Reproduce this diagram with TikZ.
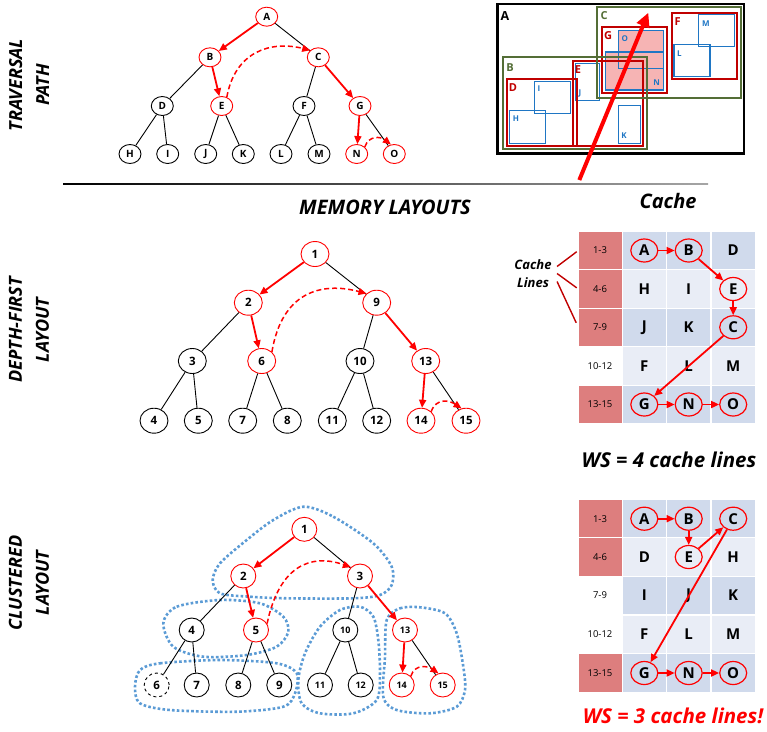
\documentclass[tikz,border=0pt]{standalone}
\usepackage{fontspec}
\setmainfont{Open Sans}
\usetikzlibrary{arrows.meta,positioning,calc,shapes.geometric}
\definecolor{pathred}{RGB}{255,0,0}
\definecolor{boxred}{RGB}{192,0,0}
\definecolor{boxgreen}{RGB}{84,110,54}
\definecolor{boxblue}{RGB}{31,118,196}
\definecolor{blobblue}{RGB}{91,155,213}
\definecolor{linepink}{RGB}{221,126,126}
\definecolor{rowdark}{RGB}{208,218,236}
\definecolor{rowlight}{RGB}{233,237,246}
\definecolor{hatchpink}{RGB}{246,180,180}
\tikzstyle{vertex}=[draw,ellipse,minimum width=22pt,minimum height=19pt,inner sep=0pt,line width=0.9pt,font=\bfseries\fontsize{10}{10}\selectfont]
\tikzstyle{dvertex}=[vertex,minimum width=28pt,minimum height=25pt,font=\bfseries\fontsize{11.5}{11.5}\selectfont]
\tikzstyle{cvertex}=[vertex,minimum width=25pt,minimum height=24pt,font=\bfseries\fontsize{11.5}{11.5}\selectfont]
\tikzstyle{hot}=[draw=pathred]
\tikzstyle{branch}=[line width=0.9pt]
\tikzstyle{walk}=[draw=pathred,line width=1.8pt,-{Triangle[length=8pt,width=7pt]}]
\tikzstyle{jump}=[walk,line width=1.5pt,dash pattern=on 5pt off 3pt]
\tikzstyle{cluster}=[draw=blobblue,line width=2.6pt,dash pattern=on 2.6pt off 2.2pt]
\tikzstyle{title}=[font=\bfseries\itshape\fontsize{18}{27}\selectfont,align=center]
\tikzstyle{linecell}=[minimum width=43pt,minimum height=37.5pt,inner sep=0pt,font=\fontsize{9.5}{9.5}\selectfont]
\tikzstyle{datacell}=[minimum width=43pt,minimum height=37.5pt,inner sep=0pt]
\tikzstyle{slot}=[ellipse,minimum width=27pt,minimum height=23pt,inner sep=0pt,font=\bfseries\fontsize{15}{15}\selectfont]
\tikzstyle{seen}=[slot,draw=pathred,line width=1.2pt]
\tikzstyle{boxtag}=[inner sep=0pt,font=\bfseries\fontsize{11}{11}\selectfont]
\tikzstyle{leaftag}=[boxblue,inner sep=0pt,font=\bfseries\fontsize{8}{8}\selectfont]

\begin{document}
\begin{tikzpicture}[x=1pt,y=-1pt]
\useasboundingbox (0,0) rectangle (767,731);

% section titles
\node[title,rotate=90] (travlabel) at (29,85) {TRAVERSAL\\PATH};
\node[title,rotate=90] (dflabel) at (29,330) {DEPTH-FIRST\\LAYOUT};
\node[title,rotate=90] (cllabel) at (29,583) {CLUSTERED\\LAYOUT};
\node[title,font=\bfseries\itshape\fontsize{20}{20}\selectfont] (memlabel) at (385,207) {MEMORY LAYOUTS};
\node[title,font=\bfseries\itshape\fontsize{20}{20}\selectfont] (cachetitle) at (668,201) {Cache};
\coordinate (ruleleft) at (63,184);
\coordinate (ruleright) at (708,184);
\shade[left color=black,right color=gray!70] ($(ruleleft)+(0,-0.6)$) rectangle ($(ruleright)+(0,0.6)$);

% traversal path tree
\node[vertex,hot] (tA) at (266.7,16.7) {A};
\node[vertex,hot] (tB) at (210,57.3) {B};
\node[vertex,hot] (tC) at (318.3,57.3) {C};
\node[vertex] (tD) at (162.3,106) {D};
\node[vertex,hot] (tE) at (221.7,106) {E};
\node[vertex] (tF) at (304,106) {F};
\node[vertex,hot] (tG) at (360,106) {G};
\node[vertex] (tH) at (130,154) {H};
\node[vertex] (tI) at (167.7,154) {I};
\node[vertex] (tJ) at (205.7,154) {J};
\node[vertex] (tK) at (243.3,154) {K};
\node[vertex] (tL) at (281,154) {L};
\node[vertex] (tM) at (319,154) {M};
\node[vertex,hot] (tN) at (356.7,154) {N};
\node[vertex,hot] (tO) at (394.3,154) {O};
\draw[branch] (tA) -- (tC) (tB) -- (tD) (tC) -- (tF) (tG) -- (tO);
\draw[branch] (tD) -- (tH) (tD) -- (tI) (tE) -- (tJ) (tE) -- (tK) (tF) -- (tL) (tF) -- (tM);
\draw[walk] (tA) -- (tB);
\draw[walk] (tB) -- (tE);
\draw[walk] (tC) -- (tG);
\draw[walk] (tG) -- (tN);
\draw[jump] (tE.60) .. controls +(8,-45) and +(-40,-10) .. (tC.north west);
\draw[jump] (tN.north east) .. controls +(4,-12) and +(-10,-8) .. (tO.110);

% nested boxes
\fill[hatchpink] (605.3,52) rectangle (663.3,90);
\fill[hatchpink] (618.3,30.7) rectangle (663.3,68.3);
\draw[boxblue,line width=1.2pt] (605.3,52) rectangle (663.3,90);
\draw[boxblue,line width=1.2pt] (618.3,30.7) rectangle (663.3,68.3);
\draw[boxblue,line width=1.2pt] (534.3,81.3) rectangle (570.3,113.3);
\draw[boxblue,line width=1.2pt] (509.3,110.7) rectangle (545.3,143.3);
\draw[boxblue,line width=1.2pt] (575.3,63.3) rectangle (599.3,100.7);
\draw[boxblue,line width=1.2pt] (618.3,105.3) rectangle (640.7,143.3);
\draw[boxblue,line width=1.2pt] (674,44.3) rectangle (710,76.3);
\draw[boxblue,line width=1.2pt] (698.3,14.7) rectangle (734.7,46.7);
\draw[boxred,line width=1.8pt] (506.7,79) rectangle (576.7,145.7);
\draw[boxred,line width=1.8pt] (572.7,60.7) rectangle (642.7,145.7);
\draw[boxred,line width=1.8pt] (601.7,27.3) rectangle (667.3,93.3);
\draw[boxred,line width=1.8pt] (672,12.7) rectangle (737.3,79);
\draw[boxgreen,line width=1.8pt] (597.3,6.7) rectangle (740.7,98.3);
\draw[boxgreen,line width=1.8pt] (502.7,57.3) rectangle (647.3,149.3);
\draw[line width=2.6pt] (497.3,4) rectangle (744,153.3);
\node[boxtag,font=\bfseries\fontsize{12.5}{12.5}\selectfont] (boxA) at (505,16) {A};
\node[boxtag,boxgreen] (boxC) at (604,16) {C};
\node[boxtag,boxgreen] (boxB) at (510,68) {B};
\node[boxtag,boxred] (boxD) at (513,88) {D};
\node[boxtag,boxred] (boxE) at (578,70) {E};
\node[boxtag,boxred] (boxG) at (608,36) {G};
\node[boxtag,boxred] (boxF) at (677.7,21.7) {F};
\node[leaftag] (boxI) at (539,89) {I};
\node[leaftag] (boxH) at (516,119) {H};
\node[leaftag] (boxJ) at (580,93) {J};
\node[leaftag] (boxK) at (624,136) {K};
\node[leaftag] (boxO) at (624.7,39) {O};
\node[leaftag] (boxN) at (656.7,82.7) {N};
\node[leaftag] (boxL) at (679.3,53.3) {L};
\node[leaftag] (boxM) at (706,23.3) {M};
\coordinate (sweeptail) at (579.3,180);
\coordinate (sweephead) at (648.3,12.7);
\draw[pathred,line width=4pt,-{Triangle[length=14pt,width=13pt]}] (sweeptail) -- (sweephead);

% depth-first tree
\node[dvertex,hot] (d1) at (315,254) {1};
\node[dvertex,hot] (d2) at (248.3,302.7) {2};
\node[dvertex,hot] (d9) at (376.7,302.7) {9};
\node[dvertex] (d3) at (192.3,361) {3};
\node[dvertex,hot] (d6) at (261.7,361) {6};
\node[dvertex] (d10) at (360,361) {10};
\node[dvertex,hot] (d13) at (425.7,361) {13};
\node[dvertex] (d4) at (154,420.7) {4};
\node[dvertex] (d5) at (198.3,420.7) {5};
\node[dvertex] (d7) at (242.7,420.7) {7};
\node[dvertex] (d8) at (287.3,420.7) {8};
\node[dvertex] (d11) at (332.3,420.7) {11};
\node[dvertex] (d12) at (376.7,420.7) {12};
\node[dvertex,hot] (d14) at (421,420.7) {14};
\node[dvertex,hot] (d15) at (466,420.7) {15};
\draw[branch] (d1) -- (d9) (d2) -- (d3) (d3) -- (d4) (d3) -- (d5) (d6) -- (d7) (d6) -- (d8);
\draw[branch] (d9) -- (d10) (d10) -- (d11) (d10) -- (d12) (d13) -- (d15);
\draw[walk] (d1) -- (d2);
\draw[walk] (d2) -- (d6);
\draw[walk] (d9) -- (d13);
\draw[walk] (d13) -- (d14);
\draw[jump] (d6.north east) .. controls +(10,-60) and +(-45,-12) .. (d9.north west);
\draw[jump] (d14.north east) .. controls +(5,-14) and +(-12,-8) .. (d15.110);

% clustered tree
\draw[cluster] plot[smooth cycle] coordinates {(303.3,506.7) (333.3,516.7) (373.3,543.3) (391.7,566.7) (391.7,585) (380,595) (353.3,598.3) (286.7,598.3) (250,596.7) (220,593.3) (212.7,580) (220,563.3) (246.7,540) (273.3,520)};
\draw[cluster] plot[smooth cycle] coordinates {(163.3,623.3) (176.7,606.7) (220,600) (260,603.3) (283.3,616.7) (288.3,631.7) (276.7,646.7) (246.7,655) (203.3,656.7) (173.3,646.7)};
\draw[cluster] plot[smooth cycle] coordinates {(140,670) (160,663.3) (220,660) (276.7,663.3) (296.7,673.3) (295,693.3) (283.3,706.7) (236.7,711.7) (170,710) (140,703.3) (135,686.7)};
\draw[cluster] plot[smooth cycle] coordinates {(305,653.3) (320,626.7) (340,610) (360,606.7) (373.3,616.7) (378.3,640) (380,673.3) (376.7,700) (353.3,713.3) (320,713.3) (301.7,703.3) (298.3,680)};
\draw[cluster] plot[smooth cycle] coordinates {(386.7,620) (400,608.3) (420,607.3) (445,613.3) (456.7,633.3) (463.3,666.7) (465,690) (456.7,706.7) (430,713.3) (396.7,710) (383.3,696.7) (385,656.7)};
\node[cvertex,hot] (c1) at (304.3,529.3) {1};
\node[cvertex,hot] (c2) at (243.3,576) {2};
\node[cvertex,hot] (c3) at (360,576) {3};
\node[cvertex] (c4) at (191.7,630) {4};
\node[cvertex,hot] (c5) at (256,630) {5};
\node[cvertex,font=\bfseries\fontsize{9}{9}\selectfont] (c10) at (345.3,630) {10};
\node[cvertex,hot,font=\bfseries\fontsize{9}{9}\selectfont] (c13) at (405,630) {13};
\node[cvertex,dashed] (c6) at (156.7,685) {6};
\node[cvertex] (c7) at (196.7,685) {7};
\node[cvertex] (c8) at (238.3,685) {8};
\node[cvertex] (c9) at (279.3,685) {9};
\node[cvertex,font=\bfseries\fontsize{9}{9}\selectfont] (c11) at (320,685) {11};
\node[cvertex,font=\bfseries\fontsize{9}{9}\selectfont] (c12) at (360.7,685) {12};
\node[cvertex,hot,font=\bfseries\fontsize{9}{9}\selectfont] (c14) at (401.7,685) {14};
\node[cvertex,hot,font=\bfseries\fontsize{9}{9}\selectfont] (c15) at (442.7,685) {15};
\draw[branch] (c1) -- (c3) (c2) -- (c4) (c4) -- (c6) (c4) -- (c7) (c5) -- (c8) (c5) -- (c9);
\draw[branch] (c3) -- (c10) (c10) -- (c11) (c10) -- (c12) (c13) -- (c15);
\draw[walk] (c1) -- (c2);
\draw[walk] (c2) -- (c5);
\draw[walk] (c3) -- (c13);
\draw[walk] (c13) -- (c14);
\draw[jump] (c5.30) .. controls +(12,-58) and +(-40,-14) .. (c3.north west);
\draw[jump] (c14.north east) .. controls +(4,-13) and +(-10,-7) .. (c15.110);

% depth-first cache
\foreach \r/\y/\lab/\tint/\shade in {1/250.5/1-3/linepink/rowdark,2/289/4-6/linepink/rowlight,3/327.3/7-9/linepink/rowdark,4/365.8/10-12/white/rowlight,5/404.5/13-15/linepink/rowdark}{
  \node[linecell,fill=\tint] (df\r) at (600,\y) {\lab};
  \foreach \x in {644.3,688.7,733.2} \node[datacell,fill=\shade] at (\x,\y) {};
}
\foreach \name/\x/\y/\kind in {A/644.3/250.5/seen,B/688.7/250.5/seen,D/733.2/250.5/slot,H/644.3/289/slot,I/688.7/289/slot,E/733.2/289/seen,J/644.3/327.3/slot,K/688.7/327.3/slot,C/733.2/327.3/seen,F/644.3/365.8/slot,L/688.7/365.8/slot,M/733.2/365.8/slot,G/644.3/404.5/seen,N/688.7/404.5/seen,O/733.2/404.5/seen}
  \node[\kind] (df\name) at (\x,\y) {\name};
\draw[walk] (dfA) -- (dfB);
\draw[walk] (dfB) -- (dfE);
\draw[walk] (dfE) -- (dfC);
\draw[walk] (dfC) -- (dfG);
\draw[walk] (dfG) -- (dfN);
\draw[walk] (dfN) -- (dfO);
\node[font=\bfseries\itshape\fontsize{13}{18}\selectfont,align=center] (cachelines) at (533,273.5) {Cache\\Lines};
\draw[boxred,line width=1.4pt,shorten >=2pt] ($(cachelines.east)+(2,-7)$) -- (df1.west);
\draw[boxred,line width=1.4pt,shorten >=2pt] ($(cachelines.east)+(2,0)$) -- (df2.west);
\draw[boxred,line width=1.4pt,shorten >=5pt] ($(cachelines.east)+(2,8)$) -- (df3.west);
\node[title,font=\bfseries\itshape\fontsize{20.5}{20.5}\selectfont] (wsdepth) at (669,460) {WS = 4 cache lines};

% clustered cache
\foreach \r/\y/\lab/\tint/\shade in {1/518.7/1-3/linepink/rowdark,2/557/4-6/linepink/rowlight,3/595.5/7-9/white/rowdark,4/634.5/10-12/white/rowlight,5/673/13-15/linepink/rowdark}{
  \node[linecell,fill=\tint] (cl\r) at (600,\y) {\lab};
  \foreach \x in {644.3,688.7,733.2} \node[datacell,fill=\shade] at (\x,\y) {};
}
\foreach \name/\x/\y/\kind in {A/644.3/518.7/seen,B/688.7/518.7/seen,C/733.2/518.7/seen,D/644.3/557/slot,E/688.7/557/seen,H/733.2/557/slot,I/644.3/595.5/slot,J/688.7/595.5/slot,K/733.2/595.5/slot,F/644.3/634.5/slot,L/688.7/634.5/slot,M/733.2/634.5/slot,G/644.3/673/seen,N/688.7/673/seen,O/733.2/673/seen}
  \node[\kind] (cl\name) at (\x,\y) {\name};
\draw[walk] (clA) -- (clB);
\draw[walk] (clB) -- (clE);
\draw[walk] (clE) -- (clC);
\draw[walk] (clC) -- (clG);
\draw[walk] (clG) -- (clN);
\draw[walk] (clN) -- (clO);
\node[title,pathred,font=\bfseries\itshape\fontsize{20.5}{20.5}\selectfont] (wscluster) at (673,716) {WS = 3 cache lines!};
\end{tikzpicture}
\end{document}
